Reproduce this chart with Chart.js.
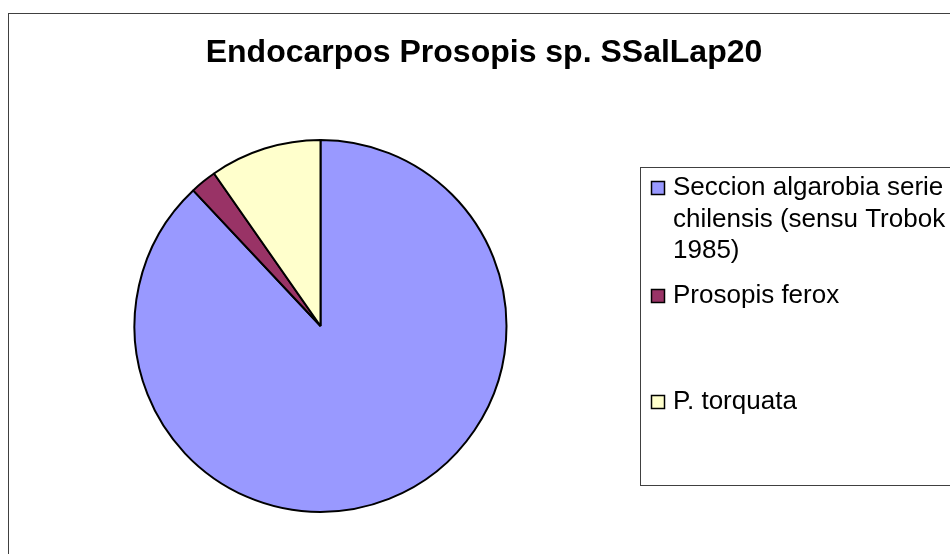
<!DOCTYPE html>
<html>
<head>
<meta charset="utf-8">
<script src="https://cdn.jsdelivr.net/npm/chart.js@4"></script>
<style>
  html, body { margin: 0; padding: 0; background: #ffffff; }
  #wrap { width: 950px; height: 554px; position: relative; }
</style>
</head>
<body>
<div id="wrap"><canvas id="c" width="950" height="554"></canvas></div>
<script>
const chartTitle = 'Endocarpos Prosopis sp. SSalLap20';
const categories = ['Seccion algarobia serie chilensis (sensu Trobok 1985)', 'Prosopis ferox', 'P. torquata'];
const seriesValues = [88.0, 2.3, 9.7];
const sliceColors = ['#9999FF', '#993366', '#FFFFCC'];

const FONT = '"Liberation Sans", Arial, Helvetica, sans-serif';

function wrapText(ctx, text, maxWidth) {
  const words = text.split(' ');
  const lines = [];
  let cur = '';
  for (const w of words) {
    const test = cur ? cur + ' ' + w : w;
    if (ctx.measureText(test).width > maxWidth && cur) {
      lines.push(cur);
      cur = w;
    } else {
      cur = test;
    }
  }
  if (cur) lines.push(cur);
  return lines;
}

const decorPlugin = {
  id: 'decor',
  beforeDraw(chart) {
    const ctx = chart.ctx;
    ctx.save();
    ctx.fillStyle = '#ffffff';
    ctx.fillRect(0, 0, chart.width, chart.height);
    // outer chart frame
    ctx.strokeStyle = '#404040';
    ctx.lineWidth = 1;
    ctx.strokeRect(8.5, 13.5, 1000, 1000);
    ctx.restore();
  },
  afterDraw(chart) {
    const ctx = chart.ctx;
    ctx.save();
    // title
    ctx.fillStyle = '#000000';
    ctx.font = 'bold 32px ' + FONT;
    ctx.textAlign = 'center';
    ctx.textBaseline = 'alphabetic';
    ctx.fillText(chartTitle, 484, 62);

    // legend box
    ctx.strokeStyle = '#404040';
    ctx.lineWidth = 1;
    ctx.strokeRect(640.5, 167.5, 400, 318);

    // legend entries
    const labels = chart.data.labels;
    const colors = chart.data.datasets[0].backgroundColor;
    const baselines = [195, 303, 409];
    const lineH = 31.5;
    ctx.font = '26px ' + FONT;
    ctx.textAlign = 'left';
    labels.forEach((lab, i) => {
      const lines = wrapText(ctx, lab, 288);
      const by = baselines[i];
      ctx.fillStyle = colors[i];
      ctx.fillRect(651, by - 14, 14, 14);
      ctx.strokeStyle = '#000000';
      ctx.lineWidth = 1.5;
      ctx.strokeRect(651.5, by - 13.5, 13, 13);
      ctx.fillStyle = '#000000';
      lines.forEach((ln, k) => {
        ctx.fillText(ln, 673, by + k * lineH);
      });
    });
    ctx.restore();
  }
};

new Chart(document.getElementById('c'), {
  type: 'pie',
  data: {
    labels: categories,
    datasets: [{
      data: seriesValues,
      backgroundColor: sliceColors,
      borderColor: '#000000',
      borderWidth: 2,
      radius: 186
    }]
  },
  options: {
    responsive: false,
    animation: false,
    devicePixelRatio: 1,
    layout: { padding: { left: 133, right: 442, top: 139, bottom: 41 } },
    plugins: {
      legend: { display: false },
      title: { display: false },
      tooltip: { enabled: false }
    }
  },
  plugins: [decorPlugin]
});
</script>
</body>
</html>
